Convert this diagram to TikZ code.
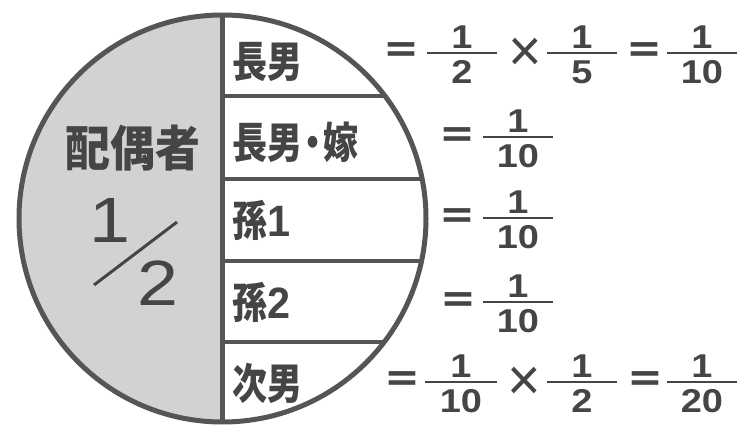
\documentclass[tikz,border=0pt]{standalone}
\usepackage{fontspec}
\newfontfamily\jp{Noto Sans CJK JP}
\newfontfamily\numfont[FakeStretch=1.15]{Liberation Sans}
\definecolor{ink}{HTML}{454545}
\definecolor{linec}{HTML}{555555}
\definecolor{greyfill}{HTML}{D2D2D2}
\tikzset{
  lbl/.style={anchor=west, inner sep=0pt, text=ink, font=\jp\bfseries\fontsize{35}{35}\selectfont},
  eqs/.style={inner sep=0pt, text=ink, font=\jp\bfseries\fontsize{38}{38}\selectfont},
  tms/.style={inner sep=0pt, text=ink, font=\numfont\fontsize{50}{50}\selectfont},
  fnum/.style={inner sep=0pt, text=ink, font=\numfont\bfseries\fontsize{33}{33}\selectfont},
  fracbar/.style={draw=ink, line width=2.8pt},
  divline/.style={draw=linec, line width=4.5pt},
  bignum/.style={inner sep=0pt, text=ink, font=\numfont\fontsize{64}{64}\selectfont},
}
\newcommand\myfrac[6]{%
  \coordinate (#1L) at ({#2-#6},#3);
  \coordinate (#1R) at ({#2+#6},#3);
  \draw[fracbar] (#1L) -- (#1R);
  \node[fnum] (#1n) at (#2,#3-16) {#4};
  \node[fnum] (#1d) at (#2,#3+19) {#5};}
\newcommand\lnum[1]{{\numfont\bfseries\fontsize{36}{36}\selectfont #1}}
\newcommand\tall[1]{\scalebox{1}[1.22]{#1}}
\begin{document}
\begin{tikzpicture}[x=1pt,y=-1pt]
\useasboundingbox (0,0) rectangle (753,425);
% circle
\node[circle, minimum size=407pt, inner sep=0pt] (c) at (222.5,218.5) {};
\fill[greyfill] (c.north) arc[start angle=90, end angle=270, radius=203.5pt] -- cycle;
\begin{scope}
  \clip (c.center) circle[radius=203.5pt];
  \foreach \yy/\nm in {96/h1,179/h2,261/h3,342/h4}{
    \coordinate (\nm a) at (222.5,\yy);
    \coordinate (\nm b) at (440,\yy);
    \draw[divline] (\nm a) -- (\nm b);
  }
\end{scope}
\draw[divline] (c.north) -- (c.south);
\draw[draw=linec, line width=5pt] (c.center) circle[radius=203.5pt];
% left side
\node[inner sep=0pt, text=ink, font=\jp\bfseries\fontsize{45}{45}\selectfont] (sp) at (133,148) {\scalebox{1}[1.08]{配偶者}};
\node[bignum] (one) at (110,220) {1};
\node[bignum] (two) at (158,283) {2};
\coordinate (s1) at (94,285);
\coordinate (s2) at (177,222);
\draw[draw=ink, line width=3pt] (s1) -- (s2);
% labels
\node[lbl] (l1) at (232,62) {\tall{長男}};
\node[lbl] (l2) at (232,142) {\tall{長男\kern-7pt・\kern-7pt嫁}};
\node[lbl] (l3) at (232,220) {\tall{孫\lnum{1}}};
\node[lbl] (l4) at (232,302) {\tall{孫\lnum{2}}};
\node[lbl] (l5) at (232,383) {\tall{次男}};
% row 1
\node[eqs] (e1a) at (401,54) {＝};
\myfrac{r1a}{462}{53}{1}{2}{35}
\node[tms] (t1) at (525,55) {\scalebox{1}[1.2]{×}};
\myfrac{r1b}{582}{53}{1}{5}{35}
\node[eqs] (e1b) at (644,54) {＝};
\myfrac{r1c}{702}{53}{1}{10}{35}
% rows 2-4
\node[eqs] (e2) at (457,139) {＝};
\myfrac{r2}{518}{137}{1}{10}{35}
\node[eqs] (e3) at (457,220) {＝};
\myfrac{r3}{518}{218}{1}{10}{35}
\node[eqs] (e4) at (458,304) {＝};
\myfrac{r4}{518}{302}{1}{10}{35}
% row 5
\node[eqs] (e5a) at (402,383) {＝};
\myfrac{r5a}{461}{382}{1}{10}{36}
\node[tms] (t5) at (524,384) {\scalebox{1}[1.2]{×}};
\myfrac{r5b}{582}{382}{1}{2}{35}
\node[eqs] (e5b) at (645,383) {＝};
\myfrac{r5c}{702}{382}{1}{20}{35}
\end{tikzpicture}
\end{document}
